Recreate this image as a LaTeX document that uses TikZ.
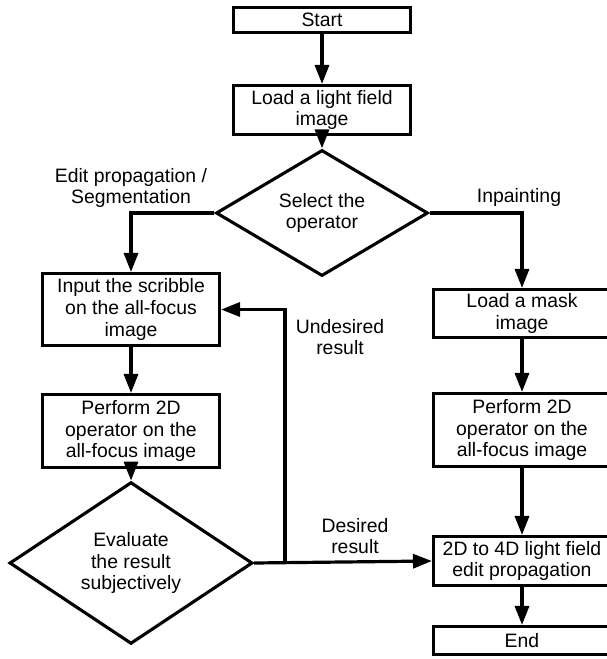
\documentclass[tikz,border=0pt]{standalone}
\usepackage{fontspec}
\setmainfont{Liberation Sans}
\usetikzlibrary{arrows.meta}
\usetikzlibrary{shapes.geometric}
\usetikzlibrary{calc}
\tikzset{box/.style = {draw, line width=3.1pt, inner sep=0, align=center,
                       minimum width=177pt}}
\tikzset{decision/.style = {draw, diamond, line width=3.1pt, inner sep=0,
                            align=center}}
\tikzset{flow/.style = {line width=3.2pt,
                        -{Triangle[length=19pt, width=14pt]}}}
\tikzset{lbl/.style = {align=center}}

\begin{document}
\begin{tikzpicture}[x=1pt, y=-1pt, font=\fontsize{19.4}{21.7}\selectfont]
    \useasboundingbox (0, 0) rectangle (607, 659);

    \node (start) at (322, 20) [box, minimum height=25pt] {Start};
    \node (load) at (322, 110) [box, minimum height=49pt] {Load a light field\\image};
    \node (select) at (322, 213) [decision, minimum width=212pt, minimum height=75pt] {Select the\\operator};

    \node (input) at (131, 309.5) [box, minimum height=72pt] {Input the scribble\\on the all-focus\\image};
    \node (perfL) at (131, 431) [box, minimum height=73pt] {Perform 2D\\operator on the\\all-focus image};
    \node (eval) at (131, 563) [decision, minimum width=243pt, minimum height=111pt] {Evaluate\\the result\\subjectively};

    \node (mask) at (522, 313.5) [box, minimum height=48pt] {Load a mask\\image};
    \node (perfR) at (522, 430) [box, minimum height=73pt] {Perform 2D\\operator on the\\all-focus image};
    \node (prop) at (522, 561) [box, minimum height=49pt] {2D to 4D light field\\edit propagation};
    \node (end) at (522, 640.5) [box, minimum height=28pt] {End};

    \node (lblEdit) at (131, 188) [lbl] {Edit propagation /\\Segmentation};
    \node (lblInp) at (519, 197) [lbl] {Inpainting};
    \node (lblUnd) at (340, 337) [lbl] {Undesired\\result};
    \node (lblDes) at (355, 536) [lbl] {Desired\\result};

    \draw [flow] (start) -- (load);
    \draw [flow] (load) -- (select);
    \draw [flow] (select.west) -| (input.north);
    \draw [flow] (select.east) -| (mask.north);
    \draw [flow] (input) -- (perfL);
    \draw [flow] (perfL) -- (eval);
    \draw [flow] (mask) -- (perfR);
    \draw [flow] (perfR) -- (prop);
    \draw [flow] (prop) -- (end);

    \coordinate (junc) at ($(eval.east)!0.174!(prop.west)$);
    \draw [flow] (eval.east) -- (prop.west);
    \draw [flow] (junc) |- (input.east);
\end{tikzpicture}
\end{document}
